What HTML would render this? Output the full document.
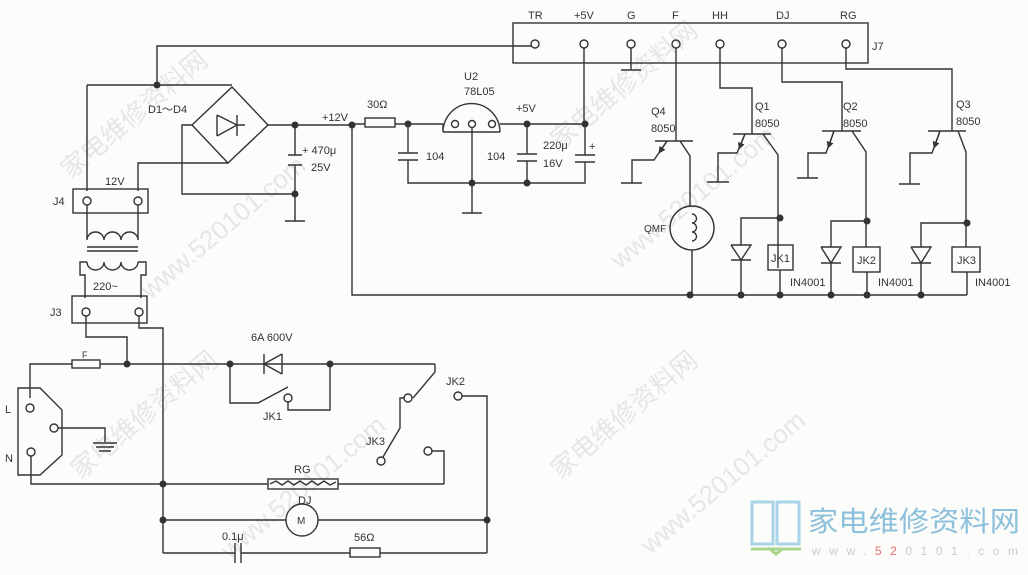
<!DOCTYPE html>
<html><head><meta charset="utf-8"><style>
html,body{margin:0;padding:0;background:#fcfcfa;}
svg{display:block}
text{font-family:"Liberation Sans","Noto Sans CJK SC",sans-serif;fill:#333;font-size:11px}
</style></head><body>
<svg width="1028" height="575" viewBox="0 0 1028 575" xmlns="http://www.w3.org/2000/svg">
<defs>
<marker id="ar" viewBox="0 0 10 10" refX="9" refY="5" markerWidth="7" markerHeight="7" orient="auto" markerUnits="userSpaceOnUse">
<path d="M0 0L10 5L0 10Z" fill="#333"/>
</marker>
</defs>
<rect width="1028" height="575" fill="#fcfcfa"/>
<g>
<text x="70" y="180" transform="rotate(-40 70 180)" style="fill:#e6e6e6;font-size:26px">家电维修资料网</text>
<text x="150" y="300" transform="rotate(-40 150 300)" style="fill:#e6e6e6;font-size:26px">www.520101.com</text>
<text x="560" y="150" transform="rotate(-40 560 150)" style="fill:#e6e6e6;font-size:26px">家电维修资料网</text>
<text x="620" y="270" transform="rotate(-40 620 270)" style="fill:#e6e6e6;font-size:26px">www.520101.com</text>
<text x="80" y="480" transform="rotate(-40 80 480)" style="fill:#e6e6e6;font-size:26px">家电维修资料网</text>
<text x="230" y="560" transform="rotate(-40 230 560)" style="fill:#e6e6e6;font-size:26px">www.520101.com</text>
<text x="560" y="480" transform="rotate(-40 560 480)" style="fill:#e6e6e6;font-size:26px">家电维修资料网</text>
<text x="650" y="555" transform="rotate(-40 650 555)" style="fill:#e6e6e6;font-size:26px">www.520101.com</text>
</g>
<g stroke="#333" stroke-width="1.4" fill="none">
<rect x="513" y="23" width="355" height="40"/>
<circle cx="535" cy="44" r="4"/><circle cx="584" cy="44" r="4"/><circle cx="631" cy="44" r="4"/><circle cx="676" cy="44" r="4"/><circle cx="720" cy="44" r="4"/><circle cx="782" cy="44" r="4"/><circle cx="846" cy="44" r="4"/>
<path d="M531 46H157V85 M87 85H232 M87 85V191"/>
<path d="M631 48V70 M621 70H641"/>
<path d="M232 87L268 125L228 163L192 125Z"/>
<path d="M217 115V136 M217 115L237 125L217 136 M237 115V136 M237 125H245"/>
<path d="M192 125H182V194H295 M228 163H138V191"/>
<path d="M268 125H352 M295 125V155 M288 155H302 M288 165H302 M295 165V221 M285 221H305"/>
<path d="M352 125V295H967"/>
<path d="M352 124H365 M395 124H443 M500 124H585"/>
<rect x="365" y="118" width="30" height="9"/>
<path d="M443 132H500 M443 132A28 28 0 0 1 500 132 M443 132V124"/>
<circle cx="455" cy="124" r="3.5"/><circle cx="472" cy="124" r="3.5"/><circle cx="492" cy="124" r="3.5"/>
<path d="M408 124V153 M398 153H418 M398 160H418 M408 160V183H585V162 M472 127V213 M462 213H482"/>
<path d="M527 124V154 M517 154H537 M517 161H537 M527 161V183"/>
<path d="M585 124V155 M575 155H595 M575 162H595 M584 48V124"/>
<!-- Q4 -->
<path d="M676 48V141 M655 141H693 M680 141L690 156V206 M692 250V295 M667 141L654 160H632V183 M621 183H642"/>
<path d="M667 141L659 153" marker-end="url(#ar)"/>
<circle cx="692" cy="228" r="22"/>
<path d="M692 214a4 4 0 0 1 0 9a4 4 0 0 1 0 9a4 4 0 0 1 0 9"/>
<!-- Q1 -->
<path d="M720 48V88H752V134 M733 134H771 M763 134L778 155V268 M745 134L737 153H718V182 M707 182H729"/>
<path d="M745 134L739 149" marker-end="url(#ar)"/>
<path d="M780 218H741V245 M731 245H751L741 260L731 245 M731 260H751 M741 260V295 M780 270V295"/>
<rect x="768" y="245" width="25" height="25"/>
<!-- Q2 -->
<path d="M782 48V82H842V131 M822 131H861 M852 131L866 152V247 M834 131L826 153H808V178 M797 178H818"/>
<path d="M834 131L828 148" marker-end="url(#ar)"/>
<path d="M867 221H831V247 M821 247H841L831 263L821 247 M821 263H841 M831 263V295 M867 272V295"/>
<rect x="853" y="247" width="27" height="25"/>
<!-- Q3 -->
<path d="M846 48V69H952V131 M928 131H966 M958 131L966 152V247 M940 131L932 153H910V184 M899 184H920"/>
<path d="M940 131L934 148" marker-end="url(#ar)"/>
<path d="M967 223H921V247 M911 247H931L921 263L911 247 M911 263H931 M921 263V295 M967 272V295"/>
<rect x="952" y="247" width="28" height="25"/>
<!-- J4 / transformer -->
<rect x="73" y="189" width="75" height="24"/>
<circle cx="87" cy="201" r="4"/><circle cx="138" cy="201" r="4"/>
<path d="M87 205V240 M138 205V240 M87 240a8.5 8 0 0 1 17 0a8.5 8 0 0 1 17 0a8.5 8 0 0 1 17 0"/>
<path d="M87 247H138 M87 251H138"/>
<path d="M87 262a8.5 8 0 0 0 17 0a8.5 8 0 0 0 17 0a8.5 8 0 0 0 17 0"/>
<path d="M87 262H80V275H85V298 M138 262H146V275H141V298"/>
<rect x="72" y="296" width="75" height="27"/>
<circle cx="86" cy="312" r="4"/><circle cx="139" cy="312" r="4"/>
<path d="M86 316V337H127V364 M139 316V328H163V553"/>
<!-- mains -->
<path d="M30 398V364H72 M100 364H435"/>
<rect x="72" y="360" width="28" height="8"/>
<path d="M282 354V374 M282 354L264 364L282 374 M264 354V374"/>
<path d="M230 364V403H258L288 387 M288 402V410H330V364"/>
<circle cx="288" cy="398" r="4"/>
<path d="M435 364V372L413 398 M404 398H400V428L383 457"/>
<circle cx="408" cy="398" r="4"/>
<circle cx="381" cy="461" r="4"/>
<circle cx="458" cy="396" r="4"/>
<path d="M462 396H487V520 M487 520V553"/>
<circle cx="428" cy="451" r="4"/>
<path d="M432 451H444V484"/>
<path d="M18 388H40L62 410V455L40 475H18Z"/>
<circle cx="30" cy="408" r="4"/><circle cx="54" cy="428" r="4"/><circle cx="31" cy="452" r="4"/>
<path d="M58 428H105V442 M93 443H117 M96 447H114 M99 451H111"/>
<path d="M31 456V484H268 M338 484H444"/>
<rect x="268" y="479" width="70" height="10"/>
<path d="M270 484l6-3 6 4 6-4 6 4 6-4 6 4 6-4 6 4 6-4 6 4 6-3"/>
<path d="M163 520H286 M318 520H487"/>
<circle cx="302" cy="520" r="16"/>
<path d="M163 553H235 M241 553H350 M380 553H487 M235 543V563 M241 543V563"/>
<rect x="350" y="548" width="30" height="9"/>
</g>
<g fill="#333">
<circle cx="157" cy="85" r="3.5"/><circle cx="295" cy="125" r="3.5"/><circle cx="295" cy="194" r="3.5"/><circle cx="352" cy="125" r="3.5"/>
<circle cx="408" cy="124" r="3.5"/><circle cx="527" cy="124" r="3.5"/><circle cx="585" cy="124" r="3.5"/><circle cx="472" cy="183" r="3.5"/><circle cx="527" cy="183" r="3.5"/>
<circle cx="780" cy="218" r="3.5"/><circle cx="867" cy="221" r="3.5"/><circle cx="967" cy="223" r="3.5"/>
<circle cx="690" cy="295" r="3.5"/><circle cx="741" cy="295" r="3.5"/><circle cx="780" cy="295" r="3.5"/><circle cx="831" cy="295" r="3.5"/><circle cx="867" cy="295" r="3.5"/><circle cx="921" cy="295" r="3.5"/>
<circle cx="127" cy="364" r="3.5"/><circle cx="230" cy="364" r="3.5"/><circle cx="330" cy="364" r="3.5"/>
<circle cx="163" cy="484" r="3.5"/><circle cx="163" cy="520" r="3.5"/><circle cx="487" cy="520" r="3.5"/>
</g>
<g>
<text x="528" y="19">TR</text><text x="574" y="19">+5V</text><text x="627" y="19">G</text><text x="672" y="19">F</text><text x="712" y="19">HH</text><text x="776" y="19">DJ</text><text x="840" y="19">RG</text>
<text x="872" y="50">J7</text>
<text x="148" y="113">D1～D4</text>
<text x="322" y="121">+12V</text>
<text x="367" y="108">30Ω</text>
<text x="464" y="80">U2</text><text x="464" y="95">78L05</text>
<text x="516" y="112">+5V</text>
<text x="426" y="160">104</text><text x="487" y="160">104</text>
<text x="543" y="149">220μ</text><text x="543" y="167">16V</text>
<text x="302" y="154">+ 470μ</text><text x="311" y="171">25V</text>
<text x="589" y="150">+</text>
<text x="651" y="115">Q4</text><text x="651" y="132">8050</text>
<text x="755" y="110">Q1</text><text x="755" y="127">8050</text>
<text x="843" y="110">Q2</text><text x="843" y="127">8050</text>
<text x="956" y="108">Q3</text><text x="956" y="125">8050</text>
<text x="644" y="232" style="font-size:10px">QMF</text>
<text x="771" y="262">JK1</text><text x="857" y="264">JK2</text><text x="957" y="264">JK3</text>
<text x="790" y="286">IN4001</text><text x="878" y="286">IN4001</text><text x="975" y="286">IN4001</text>
<text x="53" y="205">J4</text><text x="105" y="185">12V</text><text x="93" y="290">220~</text><text x="50" y="316">J3</text>
<text x="82" y="358" style="font-size:9px">F</text>
<text x="251" y="341">6A  600V</text>
<text x="263" y="420">JK1</text><text x="446" y="385">JK2</text><text x="366" y="445">JK3</text>
<text x="5" y="413">L</text><text x="5" y="462">N</text>
<text x="294" y="473">RG</text><text x="298" y="504">DJ</text>
<text x="297" y="524" style="font-size:10px">M</text>
<text x="222" y="540">0.1μ</text><text x="354" y="541">56Ω</text>
</g>
<g>
<path d="M752 502H773V544H752Z M777 502H799V544H777Z" fill="none" stroke="#a9d3e8" stroke-width="3"/>
<path d="M751 549H801 M770 549L776 554L782 549" stroke="#a8d58c" stroke-width="3" fill="none"/>
<text x="808" y="531" textLength="212" lengthAdjust="spacingAndGlyphs" style="fill:#8cc0dd;font-size:28px">家电维修资料网</text>
<text x="812" y="555" textLength="206" lengthAdjust="spacing" style="fill:#ccc;font-size:12px">www.<tspan style="fill:#e07070">52</tspan>0101.com</text>
</g>
</svg>
</body></html>
